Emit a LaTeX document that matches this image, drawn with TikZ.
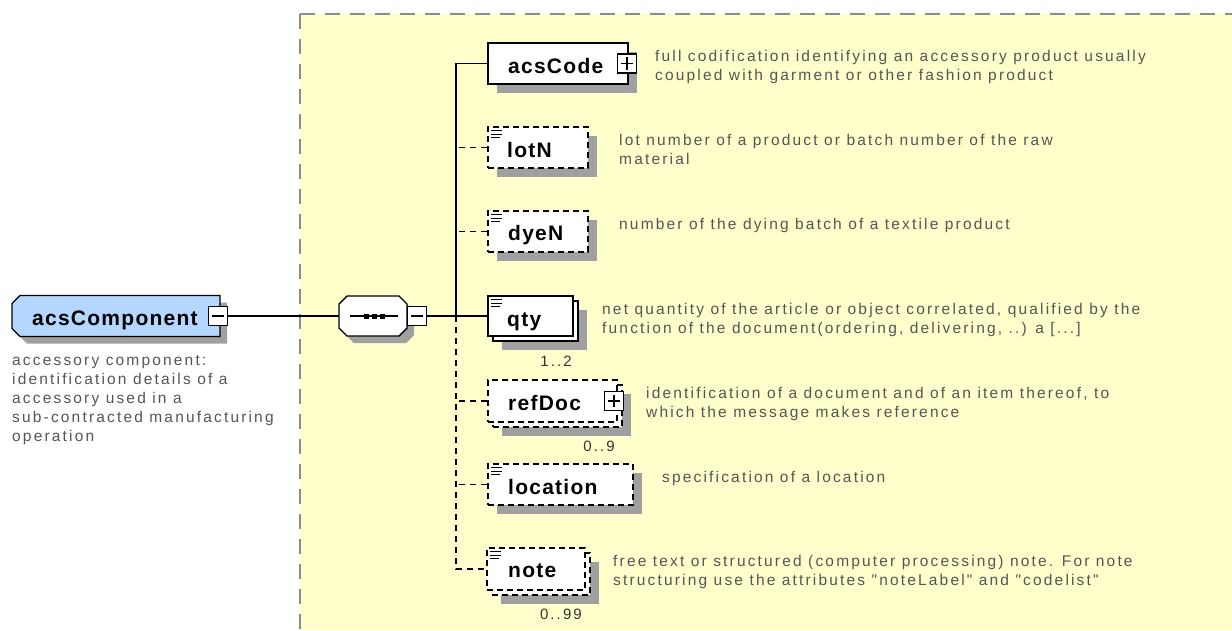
\documentclass[tikz,border=0pt]{standalone}
\usepackage{fontspec}
\setmainfont{Liberation Sans}
\newfontfamily\descfont[LetterSpace=14]{Liberation Sans}
\newfontfamily\namefont[LetterSpace=6]{Liberation Sans}
\usetikzlibrary{shadows}
\definecolor{bgyellow}{HTML}{FFFFCC}
\definecolor{shadowgray}{HTML}{A0A0A0}
\definecolor{elblue}{HTML}{B3D7FF}
\definecolor{desccol}{HTML}{555555}
\definecolor{cardcol}{HTML}{333333}
\definecolor{framegray}{HTML}{8C8C8C}
\tikzset{
 shad/.style={drop shadow={shadow xshift=9pt,shadow yshift=-9pt,fill=shadowgray,opacity=1}},
 elbox/.style={rectangle,draw=black,fill=white,line width=1.4pt,inner sep=0pt},
 optbox/.style={elbox,dash pattern=on 6pt off 4pt},
 anchorbox/.style={rectangle,draw=none,inner sep=0pt},
 octline/.style={draw=black,line width=1.4pt},
 pmbox/.style={rectangle,draw=black,fill=white,line width=1.2pt,minimum size=19pt,inner sep=0pt},
 conn/.style={draw=black,line width=1.4pt},
 dconn/.style={conn,dash pattern=on 6pt off 5pt},
 nm/.style={anchor=base west,inner sep=0pt,font=\namefont\bfseries\fontsize{21}{25}\selectfont},
 desc/.style={anchor=base west,inner sep=0pt,text=desccol,font=\descfont\fontsize{15.5}{19}\selectfont},
 card/.style={anchor=base east,inner sep=0pt,text=cardcol,font=\descfont\fontsize{15}{19}\selectfont},
 bgframe/.style={draw=framegray,line width=2pt,dash pattern=on 15pt off 10pt},
}
\newcommand\lineicon[1]{\draw[line width=1pt] ([xshift=4pt,yshift=-4.5pt]#1.north west) -- ++(11,0) ([xshift=4pt,yshift=-8pt]#1.north west) -- ++(11,0) ([xshift=4pt,yshift=-11.5pt]#1.north west) -- ++(9,0);}
\newcommand\xsminus[1]{\draw[line width=1.2pt] ([xshift=4pt]#1.west) -- ([xshift=-4pt]#1.east);}
\newcommand\xsplus[1]{\xsminus{#1}\draw[line width=1.2pt] ([yshift=-4pt]#1.north) -- ([yshift=4pt]#1.south);}
\newcommand\rootoctpath{(20,295.5) -- (220,295.5) -- (220,336.5) -- (20,336.5) -- (12,328.5) -- (12,303.5) -- cycle}
\newcommand\seqoctpath{(347,296) -- (399,296) -- (407,304) -- (407,328) -- (399,336) -- (347,336) -- (339,328) -- (339,304) -- cycle}
\begin{document}
\begin{tikzpicture}[x=1pt,y=-1pt]
\useasboundingbox (0,0) rectangle (1232,630);
\fill[bgyellow] (300,14) rectangle (1232,630);
\draw[bgframe] (300,14) -- (1232,14);
\draw[bgframe] (300,14) -- (300,630);

% root element
\fill[shadowgray,shift={(7,7)}] \rootoctpath;
\filldraw[octline,fill=elblue] \rootoctpath;
\node[anchorbox,minimum width=208pt,minimum height=41pt] (acsComp) at (116,316) {};
\node[nm] (acsCompT) at (32,325) {acsComponent};
\node[pmbox] (acsM) at (218,316) {};
\xsminus{acsM}
\node[desc] (acsCompD) at (12,365) {\vtop{\hbox{accessory component:}\hbox{identification details of a}\hbox{accessory used in a}\hbox{sub-contracted manufacturing}\hbox{operation}}};

% sequence compositor
\fill[shadowgray,shift={(7,7)}] \seqoctpath;
\filldraw[octline,fill=white] \seqoctpath;
\node[anchorbox,minimum width=68pt,minimum height=40pt] (seq) at (373,316) {};
\draw[line width=1.4pt] ([xshift=11pt]seq.west) -- ([xshift=-9pt]seq.east);
\foreach \dx in {-7,1,9} \fill ([xshift=\dx pt]seq.center) +(-2.5,-2.5) rectangle +(2.5,2.5);
\node[pmbox] (seqM) at (417,316) {};
\xsminus{seqM}

% children
\node[elbox,shad,minimum width=140pt,minimum height=41pt] (acsCode) at (558,63.5) {};
\node[nm] (acsCodeT) at (508,73) {acsCode};
\node[pmbox] (acsCodeP) at (627,63.5) {};
\xsplus{acsCodeP}

\node[optbox,shad,minimum width=100pt,minimum height=41pt] (lotN) at (538,147.5) {};
\lineicon{lotN}
\node[nm] (lotNT) at (507,157) {lotN};

\node[optbox,shad,minimum width=100pt,minimum height=41pt] (dyeN) at (538,231.5) {};
\lineicon{dyeN}
\node[nm] (dyeNT) at (508,240) {dyeN};

\node[elbox,shad,minimum width=85pt,minimum height=40pt] (qtyB) at (535.5,321) {};
\node[elbox,minimum width=85pt,minimum height=40pt] (qty) at (530.5,316) {};
\lineicon{qty}
\node[nm] (qtyT) at (507,326) {qty};
\node[card] (qtyC) at (572,366) {1..2};

\node[optbox,shad,minimum width=129pt,minimum height=42pt] (refDocB) at (557.5,406) {};
\node[optbox,minimum width=129pt,minimum height=42pt] (refDoc) at (552.5,401) {};
\node[nm] (refDocT) at (508,410) {refDoc};
\node[pmbox] (refDocP) at (614,401) {};
\xsplus{refDocP}
\node[card] (refDocC) at (615,451) {0..9};

\node[optbox,shad,minimum width=145pt,minimum height=41pt] (location) at (560.5,484.5) {};
\lineicon{location}
\node[nm] (locationT) at (508,494) {location};

\node[optbox,shad,minimum width=98pt,minimum height=42pt] (noteB) at (541,574) {};
\node[optbox,minimum width=98pt,minimum height=42pt] (note) at (536,569) {};
\lineicon{note}
\node[nm] (noteT) at (508,577) {note};
\node[card] (noteC) at (582,619) {0..99};

% connectors
\coordinate (tQty) at (456,316);
\draw[conn] (acsM.east) -- (seq.west);
\draw[conn] (seqM.east) -- (qty.west);
\draw[conn] (acsCode.west) -| (tQty);
\draw[dconn] (lotN.west) -- (lotN.west -| tQty);
\draw[dconn] (dyeN.west) -- (dyeN.west -| tQty);
\draw[dconn] (tQty) |- (note.west);
\draw[dconn] (refDoc.west) -- (refDoc.west -| tQty);
\draw[dconn] (location.west) -- (location.west -| tQty);

% descriptions
\node[desc] (acsCodeD) at (655,61) {\vtop{\hbox{full codification identifying an accessory product usually}\hbox{coupled with garment or other fashion product}}};
\node[desc] (lotND) at (619,145) {\vtop{\hbox{lot number of a product or batch number of the raw}\hbox{material}}};
\node[desc] (dyeND) at (619,229) {number of the dying batch of a textile product};
\node[desc] (qtyD) at (602,314) {\vtop{\hbox{net quantity of the article or object correlated, qualified by the}\hbox{function of the document(ordering, delivering, ..) a [...]}}};
\node[desc] (refDocD) at (646,398) {\vtop{\hbox{identification of a document and of an item thereof, to}\hbox{which the message makes reference}}};
\node[desc] (locationD) at (662,482) {specification of a location};
\node[desc] (noteD) at (613,566) {\vtop{\hbox{free text or structured (computer processing) note. For note}\hbox{structuring use the attributes "noteLabel" and "codelist"}}};
\end{tikzpicture}
\end{document}
